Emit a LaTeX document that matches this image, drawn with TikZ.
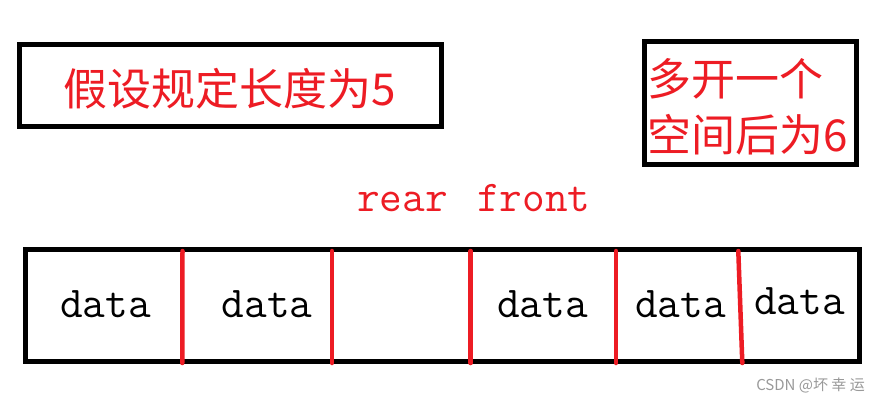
\documentclass[tikz,border=0pt]{standalone}
\usepackage{fontspec}
\usepackage{xcolor}
\usetikzlibrary{positioning}
\newfontfamily\cjk{Noto Sans CJK SC}
\definecolor{paintred}{RGB}{237,28,36}
\tikzset{
    frame/.style={draw, line width=5pt},
    cjktext/.style={text=paintred, font=\cjk\fontsize{44}{58}\selectfont, inner sep=0pt},
    monotext/.style={font=\ttfamily\fontsize{44}{50}\selectfont, inner sep=0pt},
    divider/.style={draw=paintred, line width=4.5pt, line cap=round}
}

\begin{document}
\begin{tikzpicture}[x=1pt, y=-1pt]
        \useasboundingbox[fill=white] (0, 0) rectangle (880, 402);

        \draw[frame] (19.5, 44.3) rectangle (441.5, 126.3);
        \node[cjktext, anchor=base] (len) at (230, 105) {假设规定长度为5};

        \draw[frame] (644.3, 41.8) rectangle (856.7, 164);
        \node[cjktext, anchor=base west] (more) at (647, 95) {多开一个};
        \node[cjktext, anchor=base west] (six) at (647, 151) {空间后为6};

        \node[monotext, text=paintred, anchor=base west] (rear) at (357, 211) {rear};
        \node[monotext, text=paintred, anchor=base west] (front) at (477, 211) {front};

        \draw[frame] (25.7, 249) rectangle (859.2, 361.8);
        \foreach \xa/\xb in {182.5/182.3, 332/332, 470.7/470.7, 616/616, 738.3/742.3}
            \draw[divider] (\xa, 251) -- (\xb, 363);

        \node[monotext, anchor=base] (d1) at (105.5, 317) {data};
        \node[monotext, anchor=base] (d2) at (267, 317) {data};
        \node[monotext, anchor=base] (d4) at (542.5, 317) {data};
        \node[monotext, anchor=base] (d5) at (680.5, 317) {data};
        \node[monotext, anchor=base] (d6) at (799.5, 314) {data};

        \node[font=\cjk\fontsize{15}{18}\selectfont, text=black!40, anchor=base east, inner sep=0pt] (mark) at (865, 390) {CSDN @坏 幸 运};
    \end{tikzpicture}
\end{document}
